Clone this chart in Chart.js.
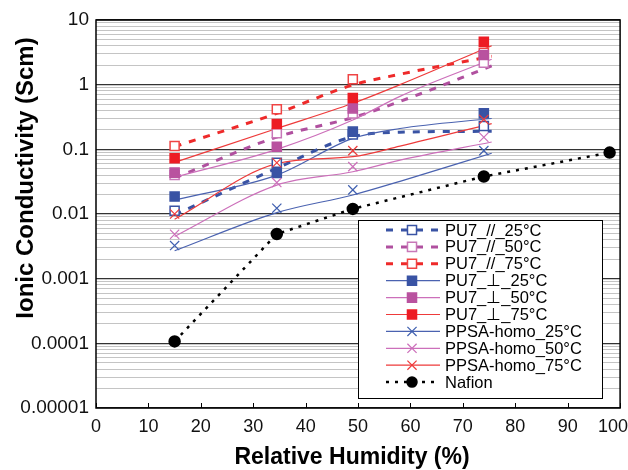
<!DOCTYPE html>
<html>
<head>
<meta charset="utf-8">
<script src="https://cdn.jsdelivr.net/npm/chart.js@4.4.1/dist/chart.umd.min.js"></script>
<style>
  html, body { margin: 0; padding: 0; background: #fff; }
</style>
</head>
<body>
<canvas id="rhChart" width="628" height="470"></canvas>
<script>
// RH (%) where the samples were measured, and where the fitted curves are read
var rhPts = [15, 34.5, 49, 74];
var rhFit = [15, 34.5, 49, 58, 75.5];
var rhNafion = [15, 34.5, 49, 74, 98];

// measured points (S/cm)
var par25 = [0.0112, 0.062, 0.17, 0.23];
var par50 = [0.04, 0.177, 0.36, 2.19];
var par75 = [0.113, 0.417, 1.21, 3.1];
var perp25 = [0.0186, 0.043, 0.188, 0.36];
var perp50 = [0.0436, 0.11, 0.43, 2.88];
var perp75 = [0.073, 0.247, 0.62, 4.6];
var homo25 = [0.00325, 0.0123, 0.0236, 0.0955];
var homo50 = [0.00487, 0.0306, 0.054, 0.154];
var homo75 = [0.01, 0.062, 0.0955, 0.29];
var nafion = [0.000107, 0.0049, 0.012, 0.038, 0.089];

// trend curves at rhFit
var par25Fit = [0.0097, 0.051, 0.157, 0.184, 0.19];
var par50Fit = [0.036, 0.155, 0.31, 0.55, 1.95];
var par75Fit = [0.11, 0.36, 0.99, 1.45, 2.75];
var perp25Fit = [0.0165, 0.04, 0.148, 0.21, 0.30];
var perp50Fit = [0.037, 0.1, 0.284, 0.66, 2.47];
var perp75Fit = [0.063, 0.21, 0.515, 1.0, 4.0];
var homo25Fit = [0.0027, 0.0105, 0.0197, 0.032, 0.087];
var homo50Fit = [0.0045, 0.028, 0.045, 0.068, 0.13];
var homo75Fit = [0.0083, 0.06, 0.077, 0.112, 0.25];

var xTicks = [0, 10, 20, 30, 40, 50, 60, 70, 80, 90, 100];
var yTicks = [0.00001, 0.0001, 0.001, 0.01, 0.1, 1, 10];
var yTickLabels = ['0.00001', '0.0001', '0.001', '0.01', '0.1', '1', '10'];

var labels = ['PU7_//_25°C', 'PU7_//_50°C', 'PU7_//_75°C',
  'PU7_⊥_25°C', 'PU7_⊥_50°C', 'PU7_⊥_75°C',
  'PPSA-homo_25°C', 'PPSA-homo_50°C', 'PPSA-homo_75°C', 'Nafion'];

var BLUE = '#3953a4', MAG = '#b9529f', RED = '#ed1c24';
var FONT = '"Liberation Sans", Arial, sans-serif';

function pts(xs, ys) {
  return ys.map(function (v, i) { return { x: xs[i], y: v }; });
}

function isMajor(v) {
  return yTicks.some(function (d) { return Math.abs(d - v) / d < 1e-6; });
}

// one style per series: line + marker
var series = [
  { pts: par25, fit: par25Fit, line: BLUE, dash: [7, 8], lw: 3, mk: 'rect', mfill: '#fff', mstroke: BLUE, mr: 6.4 },
  { pts: par50, fit: par50Fit, line: '#b0509f', dash: [7, 8], lw: 3, mk: 'rect', mfill: '#fff', mstroke: '#c878b8', mr: 6.4 },
  { pts: par75, fit: par75Fit, line: '#ee2a2a', dash: [7, 8], lw: 3, mk: 'rect', mfill: '#fff', mstroke: '#ef4444', mr: 6.4 },
  { pts: perp25, fit: perp25Fit, line: '#4a62b0', dash: [], lw: 1.2, mk: 'rect', mfill: BLUE, mstroke: BLUE, mr: 6.4 },
  { pts: perp50, fit: perp50Fit, line: '#cc6fba', dash: [], lw: 1.2, mk: 'rect', mfill: MAG, mstroke: MAG, mr: 6.4 },
  { pts: perp75, fit: perp75Fit, line: '#ee3a3a', dash: [], lw: 1.2, mk: 'rect', mfill: RED, mstroke: RED, mr: 6.4 },
  { pts: homo25, fit: homo25Fit, line: '#4a62b0', dash: [], lw: 1.2, mk: 'crossRot', mfill: '#4060b0', mstroke: '#4060b0', mr: 6.5 },
  { pts: homo50, fit: homo50Fit, line: '#cc6fba', dash: [], lw: 1.2, mk: 'crossRot', mfill: '#cc6fba', mstroke: '#cc6fba', mr: 6.5 },
  { pts: homo75, fit: homo75Fit, line: '#ee3a3a', dash: [], lw: 1.2, mk: 'crossRot', mfill: '#ee3a3a', mstroke: '#ee3a3a', mr: 6.5 }
];

var datasets = [];
series.forEach(function (s) {
  datasets.push({
    type: 'line', data: pts(rhFit, s.fit), borderColor: s.line, borderWidth: s.lw,
    borderDash: s.dash, pointRadius: 0, cubicInterpolationMode: 'monotone', fill: false
  });
});
series.forEach(function (s) {
  datasets.push({
    type: 'line', data: pts(rhPts, s.pts), showLine: false, pointStyle: s.mk,
    pointRadius: s.mr, pointBackgroundColor: s.mfill, pointBorderColor: s.mstroke,
    pointBorderWidth: s.mk === 'crossRot' ? 1.2 : 1.5
  });
});
datasets.push({
  type: 'line', data: pts(rhNafion, nafion), borderColor: '#000', borderWidth: 2.5,
  borderDash: [3, 6], tension: 0, pointStyle: 'circle', pointRadius: 5,
  pointBackgroundColor: '#000', pointBorderColor: '#000'
});
// later series draw on top
datasets.forEach(function (d, i) { d.order = datasets.length - i; });

var legendStyles = series.map(function (s) {
  return { line: s.line, dash: s.dash, lw: s.lw, mk: s.mk, mfill: s.mfill, mstroke: s.mstroke, mr: s.mr };
});
legendStyles.push({ line: '#000', dash: [3, 6], lw: 2.5, mk: 'circle', mfill: '#000', mstroke: '#000', mr: 5 });

var decor = {
  id: 'decor',
  afterDraw: function (chart) {
    var ctx = chart.ctx, a = chart.chartArea, xs = chart.scales.x;
    ctx.save();
    // inside tick marks on the bottom axis
    ctx.strokeStyle = '#000';
    ctx.lineWidth = 1;
    xTicks.forEach(function (t) {
      var px = Math.round(xs.getPixelForValue(t)) + 0.5;
      ctx.beginPath(); ctx.moveTo(px, a.bottom); ctx.lineTo(px, a.bottom - 5); ctx.stroke();
    });
    // frame
    ctx.lineWidth = 1.5;
    ctx.strokeRect(a.left, a.top, a.right - a.left, a.bottom - a.top);

    // last x label is pulled in so it stays on the canvas
    ctx.fillStyle = '#111';
    ctx.font = '18px ' + FONT;
    ctx.textAlign = 'right';
    ctx.textBaseline = 'middle';
    ctx.fillText(String(xTicks[xTicks.length - 1]), 628, a.bottom + 8 + 18 * 1.2 / 2);

    // legend
    var lx = 358.5, ly = 220.5, lw = 244, lh = 178;
    ctx.fillStyle = '#fff';
    ctx.fillRect(lx, ly, lw, lh);
    ctx.lineWidth = 1;
    ctx.strokeStyle = '#000';
    ctx.strokeRect(lx, ly, lw, lh);
    ctx.font = '16.5px ' + FONT;
    ctx.textBaseline = 'middle';
    labels.forEach(function (lab, i) {
      var st = legendStyles[i];
      var y = 230 + i * 16.9;
      ctx.save();
      ctx.strokeStyle = st.line;
      ctx.lineWidth = st.lw;
      ctx.setLineDash(st.dash);
      ctx.beginPath(); ctx.moveTo(386, y); ctx.lineTo(440, y); ctx.stroke();
      ctx.setLineDash([]);
      ctx.fillStyle = st.mfill;
      ctx.strokeStyle = st.mstroke;
      ctx.lineWidth = st.mk === 'crossRot' ? 1.2 : 1.5;
      Chart.helpers.drawPoint(ctx, { pointStyle: st.mk, radius: st.mr, rotation: 0, borderWidth: ctx.lineWidth }, 412, y);
      ctx.restore();
      ctx.fillStyle = '#000';
      ctx.textAlign = 'left';
      ctx.fillText(lab, 445, y + 1);
    });

    // axis titles
    ctx.fillStyle = '#000';
    ctx.font = 'bold 23px ' + FONT;
    ctx.textAlign = 'center';
    ctx.textBaseline = 'middle';
    ctx.fillText('Relative Humidity (%)', 352, 458);
    ctx.font = 'bold 24px ' + FONT;
    ctx.translate(26, 178);
    ctx.rotate(-Math.PI / 2);
    ctx.fillText('Ionic Conductivity (Scm)', 0, 0);
    ctx.restore();
  }
};

new Chart(document.getElementById('rhChart'), {
  type: 'line',
  data: { datasets: datasets },
  options: {
    responsive: false,
    animation: false,
    devicePixelRatio: 1,
    layout: { padding: { left: 0, right: 7, top: 20, bottom: 0 } },
    plugins: { legend: { display: false }, tooltip: { enabled: false } },
    scales: {
      x: {
        type: 'linear', min: 0, max: 100,
        afterFit: function (s) { s.height = 62; s.paddingLeft = 0; s.paddingRight = 0; },
        afterBuildTicks: function (s) { s.ticks = xTicks.map(function (v) { return { value: v }; }); },
        grid: { display: false, drawTicks: false },
        border: { display: false },
        ticks: {
          color: '#111', padding: 8, font: { family: FONT, size: 18 },
          callback: function (v) { return v === xTicks[xTicks.length - 1] ? '' : String(v); }
        }
      },
      y: {
        type: 'logarithmic', min: 0.00001, max: 10,
        afterFit: function (s) { s.width = 96; s.paddingTop = 0; s.paddingBottom = 0; },
        afterBuildTicks: function (s) {
          var t = [];
          for (var e = -5; e <= 0; e++) {
            for (var m = 1; m <= 9; m++) t.push({ value: m * Math.pow(10, e) });
          }
          t.push({ value: 10 });
          s.ticks = t;
        },
        grid: {
          drawTicks: false,
          color: function (c) { return c.tick && isMajor(c.tick.value) ? '#333' : '#c4c4c4'; },
          lineWidth: function (c) { return c.tick && isMajor(c.tick.value) ? 1.3 : 1; }
        },
        border: { display: false },
        ticks: {
          autoSkip: false, color: '#111', padding: 7, font: { family: FONT, size: 19 },
          callback: function (v) {
            var k = yTicks.findIndex(function (d) { return Math.abs(d - v) / d < 1e-6; });
            return k >= 0 ? yTickLabels[k] : '';
          }
        }
      }
    }
  },
  plugins: [decor]
});
</script>
</body>
</html>
